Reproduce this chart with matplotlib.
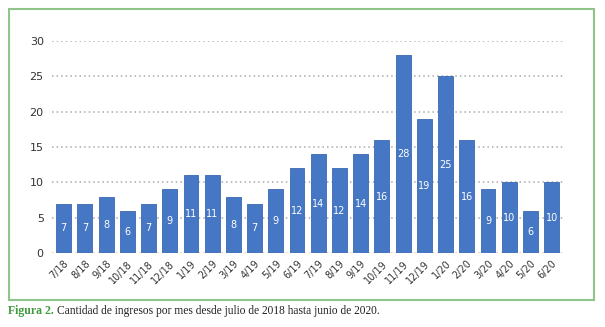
import matplotlib.pyplot as plt
from matplotlib.patches import Rectangle

# monthly admissions, July 2018 - June 2020
months = ['7/18', '8/18', '9/18', '10/18', '11/18', '12/18',
          '1/19', '2/19', '3/19', '4/19', '5/19', '6/19',
          '7/19', '8/19', '9/19', '10/19', '11/19', '12/19',
          '1/20', '2/20', '3/20', '4/20', '5/20', '6/20']
counts = [7, 7, 8, 6, 7, 9, 11, 11, 8, 7, 9, 12,
          14, 12, 14, 16, 28, 19, 25, 16, 9, 10, 6, 10]
yticks = [0, 5, 10, 15, 20, 25, 30]

fig = plt.figure(figsize=(6.05, 3.27), dpi=100)
ax = fig.add_axes([0.086, 0.226, 0.845, 0.649])

x = list(range(len(months)))
bars = ax.bar(x, counts, width=0.7, color='#4577c4', edgecolor='#3a68b0',
              linewidth=0.6, zorder=3)

for xi, v in zip(x, counts):
    ax.text(xi, v / 2, str(v), ha='center', va='center', color='white',
            fontsize=7, zorder=4)

for t in yticks[1:]:
    ax.axhline(t, color='#aaaaaa', linestyle=(0, (1, 2)), linewidth=1.1, zorder=1)
ax.axhline(0, color='#e8b98a', linestyle=(0, (1, 2)), linewidth=1.1, zorder=1)

ax.set_xlim(-0.55, 23.55)
ax.set_ylim(0, 30)
ax.set_yticks(yticks)
ax.set_yticklabels([str(t) for t in yticks], color='#333333', fontsize=8)
ax.set_xticks(x)
ax.set_xticklabels(months, rotation=45, ha='right', rotation_mode='anchor',
                   color='#333333', fontsize=7)
ax.tick_params(length=0, pad=6)
ax.tick_params(axis='x', pad=4)
for s in ax.spines.values():
    s.set_visible(False)

# green frame around the chart
fig.patches.append(Rectangle((9 / 605, 1 - 300 / 327), 585 / 605, 291 / 327,
                             transform=fig.transFigure, fill=False,
                             edgecolor='#8fc48a', linewidth=1.5))

fig.text(8 / 605, 1 - 311 / 327, 'Figura 2.', color='#3f9a3c', fontsize=8.5,
         family='Liberation Serif', fontweight='bold', va='center')
fig.text(57 / 605, 1 - 311 / 327,
         'Cantidad de ingresos por mes desde julio de 2018 hasta junio de 2020.',
         color='#222222', fontsize=8.3, family='Liberation Serif', va='center')

fig.savefig('out.png', dpi=100)
